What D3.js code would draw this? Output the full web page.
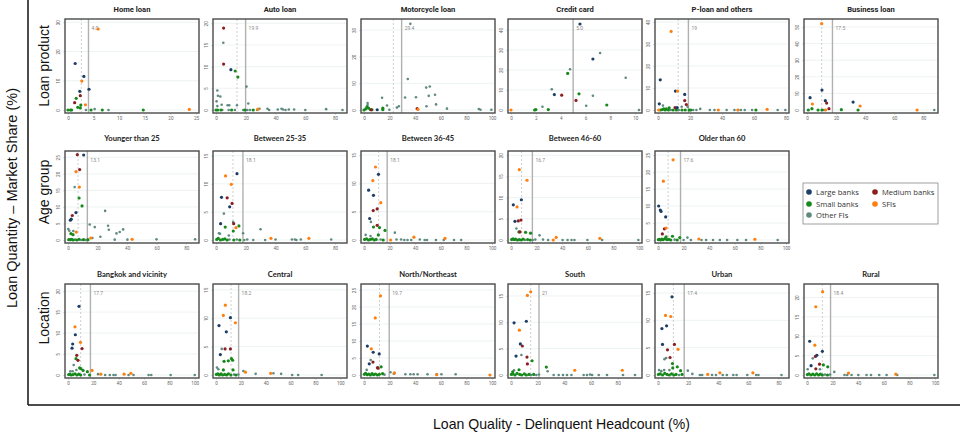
<!DOCTYPE html>
<html><head><meta charset="utf-8">
<script src="https://cdn.jsdelivr.net/npm/d3@7"></script>
<style>body{margin:0;background:#fff}</style>
</head><body>
<svg id="c" width="960" height="437"></svg>
<script>
// ---------- series ----------
const seriesNames = ["Large banks","Medium banks","Small banks","SFIs","Other FIs"];
const seriesCodes = ["L","M","S","F","O"];
const seriesColors = ["#1b3d66","#8b1e22","#17891c","#ff7f0e","#5f8a80"];

// ---------- panel data: [delinquent headcount %, market share %, series] ----------
const homeLoan = [[5.9,27.7,"F"],[1.4,15.9,"L"],[3.1,11.5,"L"],[2.7,9.9,"F"],[4.1,7.1,"L"],[2.3,6.4,"L"],[2.4,4.9,"M"],[1.6,4.0,"S"],[1.3,2.5,"M"],[3.4,1.8,"F"],[2.5,1.7,"S"],[1.9,0.9,"S"],[2.4,0.7,"S"],[0,0,"S"],[0.5,0,"S"],[0.7,0,"S"],[3.5,0,"O"],[4.5,0,"S"],[5.2,0.3,"O"],[6.7,0,"S"],[7.9,0,"O"],[14.7,0,"S"],[23.7,0.2,"F"]];
const autoLoan = [[5.1,18.9,"M"],[4.9,15.5,"O"],[5.1,10.6,"M"],[10.0,9.3,"L"],[12.9,9.0,"S"],[14.7,7.6,"S"],[20.5,5.4,"O"],[0.9,4.5,"O"],[1.3,3.3,"O"],[2.9,3.1,"O"],[0.4,2.0,"O"],[3.8,1.2,"O"],[7.8,1.1,"O"],[8.9,1.1,"O"],[14.1,1.1,"O"],[21.7,1.5,"O"],[0.9,0.9,"O"],[0,0,"S"],[1.1,0,"S"],[3.3,0,"S"],[4.2,0,"O"],[8.5,0,"O"],[10.5,0,"S"],[12.7,0,"O"],[18.3,0,"O"],[19.4,0,"S"],[21,0,"O"],[22.8,0,"O"],[25,0,"S"],[27.7,0,"O"],[28.1,0.2,"F"],[29.2,0.3,"O"],[34.6,0.3,"O"],[35.7,0,"O"],[41.5,0.1,"O"],[44,0.3,"O"],[45,0.1,"O"],[46.7,0,"O"],[48.9,0.1,"O"],[52.5,0.1,"O"],[60,0,"O"],[74,0.2,"O"],[85,0,"O"]];
const motorcycleLoan = [[36.2,32.3,"O"],[34.2,11.6,"O"],[48.6,8.4,"O"],[51.4,8.8,"O"],[32.1,4.7,"O"],[40.6,4.8,"O"],[50.6,5.3,"O"],[55.5,5.7,"O"],[14.1,4.6,"O"],[18,1.7,"O"],[2.8,2.6,"O"],[2.8,1.9,"O"],[2.3,1.2,"S"],[27.2,1.4,"O"],[25.7,0.9,"O"],[48.8,1.4,"O"],[56.3,2.1,"O"],[64.8,0.5,"O"],[42.2,0.2,"F"],[41.5,0.5,"M"],[0,0,"S"],[1.3,0.4,"S"],[3.6,0.7,"S"],[5.1,0.1,"S"],[6.2,0.1,"S"],[5.7,0.1,"M"],[10.3,0.1,"L"],[14.7,0.7,"S"],[14.7,0.1,"S"],[19.8,0.1,"O"],[89.7,0.4,"O"],[91,0.1,"O"],[99.5,0.1,"O"]];
const creditCard = [[5.55,43.0,"L"],[7.17,28.5,"O"],[6.59,25.5,"L"],[4.75,20.4,"O"],[4.56,18.3,"S"],[9.23,16.1,"O"],[3.28,10.4,"O"],[3.49,7.7,"L"],[4.08,7.4,"M"],[5.47,8.1,"S"],[6.59,7.1,"O"],[5.23,4.8,"M"],[2.53,1.6,"O"],[6.05,2.1,"O"],[7.71,2.5,"S"],[1.9,0,"S"],[2.0,0.2,"S"],[3.0,0.2,"S"],[0,0,"F"],[10.3,0,"O"]];
const pLoan = [[8.2,35.7,"F"],[1.4,13.7,"L"],[10.9,8.6,"L"],[12.2,8.6,"F"],[16.7,7.1,"L"],[16.7,4.3,"M"],[0.8,2.8,"L"],[3.1,2.0,"O"],[17.7,2.5,"M"],[14.8,1.5,"O"],[18.5,1.5,"O"],[10.7,1.1,"M"],[12.0,1.1,"L"],[7,1.0,"S"],[5.2,0.5,"S"],[3.6,0.5,"S"],[2.7,0.2,"S"],[0.4,0,"F"],[1.5,0,"S"],[4.5,0,"S"],[6.5,0,"S"],[8,0,"O"],[9.5,0,"S"],[11.5,0,"S"],[13,0,"O"],[15,0,"S"],[17,0,"S"],[19.5,0,"S"],[20.5,0,"S"],[22,0,"O"],[24,0,"O"],[26.4,0.5,"O"],[32.4,0,"O"],[35.3,0,"O"],[37.7,0,"F"],[42.9,0,"O"],[47.8,0,"O"],[49.9,0,"F"],[50.1,0,"O"],[51.8,0,"O"],[54.2,0,"O"],[58.8,0,"O"],[61.2,0,"S"],[68.2,0.3,"F"],[74.8,0,"O"],[79.6,0,"O"]];
const businessLoan = [[10.1,52,"F"],[10.3,12,"L"],[2.1,7.4,"L"],[12.6,5.6,"L"],[13.5,4.2,"M"],[31.7,4.8,"L"],[3.7,3.6,"F"],[36.5,2.4,"F"],[3.4,0.8,"S"],[15.1,0.8,"M"],[0.9,0,"S"],[7.6,0,"S"],[10.3,0,"S"],[11.7,0,"O"],[23.6,0.2,"S"],[35.1,0,"S"],[12.8,0,"F"],[75.7,0,"F"],[87.5,0,"O"]];
const youngerThan25 = [[6.3,25.8,"M"],[10.6,25.7,"L"],[7.9,21.3,"M"],[5.4,20.7,"F"],[7.7,16.0,"F"],[4.5,16.0,"O"],[7.5,12.7,"S"],[9.5,10.3,"S"],[25.1,8.8,"O"],[5.4,8.3,"L"],[2.9,7.4,"M"],[1.6,6.0,"L"],[2.2,6.3,"L"],[14.7,4.7,"O"],[18.1,3.9,"O"],[27.1,4.3,"O"],[27.6,3.1,"O"],[37.3,3.2,"O"],[32.8,2.0,"O"],[35.0,2.4,"O"],[0.2,3.3,"O"],[0.9,2.8,"O"],[3.6,2.7,"O"],[5.6,2.4,"F"],[2.0,1.9,"S"],[3.4,1.6,"S"],[21.9,1.0,"O"],[16.5,0.6,"O"],[15.4,0.6,"F"],[43.4,0.2,"F"],[0.5,0.1,"S"],[1.5,0.1,"S"],[2.5,0.2,"S"],[3.5,0,"S"],[4.8,0.1,"O"],[6,0,"S"],[7.5,0.2,"S"],[9,0,"O"],[10.5,0.1,"S"],[12,0,"O"],[13.5,0.1,"S"],[31.6,0.1,"O"],[40.2,0.1,"O"],[59.9,0.2,"O"],[86,0.2,"O"]];
const between25to35 = [[14.1,11.8,"L"],[6.4,11.4,"F"],[10.3,9.9,"F"],[3.7,7.6,"L"],[7.5,7.5,"M"],[10.8,6.5,"M"],[9.2,5.9,"L"],[5.3,4.7,"O"],[3.1,2.9,"L"],[11.9,2.9,"M"],[11.5,3.2,"O"],[6.2,2.3,"S"],[11.6,1.6,"S"],[15.4,2.5,"S"],[13.4,2.2,"F"],[29.9,1.9,"O"],[2.0,1.2,"O"],[2.7,1.1,"O"],[18.2,1.2,"O"],[8.6,0.8,"O"],[36.9,0.3,"F"],[62.4,0.3,"F"],[77.4,0.1,"O"],[0.5,0.1,"S"],[1.5,0.3,"S"],[3,0,"S"],[4.5,0.1,"S"],[6,0.2,"S"],[7.5,0,"S"],[9,0.1,"O"],[12,0,"S"],[14,0.1,"O"],[16,0,"S"],[19,0,"O"],[21,0.1,"O"],[25,0,"O"],[33,0,"O"],[40,0.1,"O"],[51,0.1,"O"],[53,0.1,"O"],[54,0,"O"],[57,0.1,"O"]];
const between36to45 = [[9.0,12.9,"F"],[11.3,11.6,"L"],[6.9,10.5,"F"],[3.6,8.8,"L"],[7.4,7.9,"L"],[13.1,6.6,"F"],[10.3,5.5,"M"],[7.2,5.2,"M"],[4.4,3.8,"L"],[5.4,3.2,"O"],[10.3,2.6,"M"],[12.1,2.2,"S"],[7.4,2.3,"S"],[16.4,1.7,"S"],[24.1,1.3,"O"],[11.2,0.9,"S"],[1.3,0.9,"O"],[5.1,0.7,"O"],[20.8,0,"F"],[39,0.5,"F"],[63.3,0.3,"F"],[0.5,0.1,"S"],[2,0.2,"S"],[3.5,0,"S"],[5,0.1,"S"],[6.5,0.2,"S"],[8,0,"S"],[9.5,0.1,"S"],[13,0.1,"O"],[15,0,"S"],[25.4,0.1,"O"],[29,0.1,"O"],[31.5,0,"O"],[34,0,"O"],[36.9,0,"O"],[43.6,0.1,"O"],[47.4,0,"O"],[49.2,0,"O"],[56.2,0,"O"],[62.3,0,"O"],[70.3,0,"O"],[75.9,0,"O"]];
const between46to60 = [[6.5,16.6,"F"],[12.5,14.1,"F"],[8.1,9.5,"L"],[1.8,8.3,"L"],[4.7,7.8,"F"],[7.8,4.7,"M"],[5.7,4.5,"M"],[3.1,4.4,"L"],[4.2,2.7,"O"],[7.0,1.9,"M"],[6.2,1.9,"S"],[11.4,1.8,"S"],[15.3,1.6,"S"],[22.3,1.1,"O"],[35.3,0.6,"F"],[33,0,"F"],[69.4,0.4,"F"],[40.3,0,"O"],[44.2,0,"O"],[47.3,0,"O"],[49.6,0,"O"],[59.7,0,"O"],[71.2,0,"O"],[99.5,0,"O"],[0.5,0.1,"S"],[1.5,0.3,"S"],[2.5,0.1,"S"],[3.5,0.2,"S"],[5,0,"S"],[6.5,0.1,"S"],[8,0,"S"],[9.5,0.2,"S"],[11,0,"O"],[13,0.1,"S"],[15,0,"S"],[17,0,"O"],[19,0.1,"O"],[25,0.1,"O"],[29,0,"O"]];
const olderThan60 = [[11.8,23.6,"F"],[4.2,17.3,"F"],[0.5,10.0,"L"],[1.8,8.8,"L"],[2.4,8.4,"L"],[6.0,6.8,"L"],[6.3,3.5,"F"],[5.0,3.3,"M"],[3.4,1.8,"M"],[11.3,1.1,"S"],[6.3,0.9,"S"],[17,0.7,"S"],[23,0.7,"O"],[31.9,0.3,"F"],[75.7,0.2,"F"],[93.5,0,"O"],[68.8,0,"O"],[62,0,"O"],[54,0,"O"],[48.3,0,"O"],[43,0,"O"],[37.6,0,"O"],[34,0,"O"],[25.7,0,"O"],[20,0,"O"],[0.3,0.1,"S"],[1,0.2,"S"],[2,0,"S"],[3,0.3,"S"],[4,0.1,"S"],[5.5,0.4,"S"],[7,0.1,"S"],[8.5,0.2,"S"],[10,0,"S"],[13,0.1,"O"],[15,0,"S"]];
const bangkokVicinity = [[8.7,16.4,"L"],[5.5,11.5,"F"],[5.8,9.6,"L"],[9.8,7.8,"F"],[3.7,7.4,"L"],[3.2,6.4,"L"],[11.1,6.3,"M"],[6.9,4.7,"M"],[7.9,3.5,"M"],[6.3,3.9,"S"],[4.5,2.4,"O"],[9.2,1.7,"S"],[10.2,1.5,"S"],[1.9,0.9,"O"],[3.7,0.9,"O"],[6.6,1.2,"O"],[11.9,1.1,"S"],[15.3,0.8,"S"],[19,1.1,"F"],[25.9,0.2,"F"],[44.3,0.2,"F"],[49.6,0.4,"F"],[23.7,0.2,"O"],[29.3,0,"O"],[33,0,"O"],[35.9,0,"O"],[37.5,0,"O"],[47.8,0,"O"],[51.7,0,"O"],[63.6,0,"O"],[65.7,0,"O"],[81,0,"O"],[100,0,"O"],[0.5,0.1,"S"],[1.5,0.2,"S"],[2.5,0,"S"],[4,0.1,"S"],[5.5,0.3,"S"],[7,0,"S"],[8.5,0.2,"S"],[10,0,"S"],[13,0.1,"O"],[17,0,"S"]];
const central = [[7.5,12.3,"F"],[5.9,10.5,"F"],[11.6,10.1,"L"],[15.6,9.2,"F"],[2.4,8.7,"L"],[8.3,7.6,"L"],[7.3,4.6,"M"],[11.6,4.6,"M"],[4.6,4.6,"O"],[3.5,3.6,"L"],[12.4,2.9,"S"],[13.4,2.6,"S"],[6.5,2.4,"S"],[9.9,2.5,"S"],[0.8,1.3,"O"],[1.9,1.0,"O"],[5.9,0.9,"S"],[13.7,0.9,"S"],[23.7,0.5,"F"],[44,0.3,"F"],[22.0,0.7,"O"],[31.9,0.2,"O"],[46.2,0.3,"O"],[52.4,0.2,"O"],[61.3,0,"O"],[66.1,0,"O"],[85,0,"O"],[0.3,0.1,"S"],[1.5,0.2,"S"],[2.7,0,"S"],[4,0.2,"S"],[5.3,0,"S"],[7,0.1,"S"],[8.5,0,"S"],[10,0.2,"S"],[12,0,"S"],[14.5,0.1,"O"],[16,0,"S"],[18,0.1,"O"]];
const northNortheast = [[12.9,23.3,"F"],[8.8,16.8,"F"],[2.6,8.5,"L"],[5.7,7.7,"F"],[7.2,6.7,"L"],[11.9,6.2,"L"],[5.2,4.4,"O"],[4.1,3.3,"L"],[7.0,3.8,"M"],[10.6,2.2,"M"],[10.9,2.0,"M"],[13.4,2.4,"S"],[2.1,1.5,"O"],[20.7,0.8,"O"],[23.3,0.4,"O"],[23.8,0.6,"F"],[56.8,0.1,"F"],[98.4,0,"F"],[32.3,0.2,"O"],[36.2,0.2,"O"],[38.8,0.2,"O"],[41.9,0.2,"O"],[49.6,0.2,"O"],[56.8,0.2,"O"],[60.5,0.2,"O"],[71.6,0.2,"O"],[0.3,0.2,"S"],[1.2,0.5,"S"],[2.5,0.1,"S"],[3.8,0.3,"S"],[5,0,"S"],[6.3,0.4,"S"],[7.5,0.1,"S"],[9,0.3,"S"],[10.5,0,"S"],[12,0.2,"S"],[14.5,0.4,"S"],[16,0.1,"O"]];
const south = [[14.8,15.8,"F"],[12.3,15.1,"F"],[2.3,9.9,"L"],[11.5,10.2,"L"],[6.3,8.5,"F"],[7.0,5.9,"L"],[8.5,5.5,"M"],[3.8,3.6,"L"],[7.8,3.8,"O"],[12,3.4,"M"],[15.8,2.7,"S"],[12.3,2.1,"M"],[6,1.0,"S"],[2.3,0.9,"O"],[1.3,0.6,"S"],[26.5,1.5,"S"],[27.5,0.7,"O"],[47.8,0.9,"F"],[83.5,0.9,"F"],[32,0,"O"],[35.8,0,"O"],[39,0,"O"],[42,0,"O"],[45.3,0,"O"],[54.5,0,"O"],[57,0,"O"],[59.3,0.1,"O"],[60.8,0,"O"],[65.8,0,"O"],[72,0,"O"],[84,0,"O"],[93,0,"O"],[0.3,0.1,"S"],[1.5,0.2,"S"],[3,0,"S"],[4.5,0.3,"S"],[6.5,0.1,"S"],[8,0,"S"],[10,0.2,"S"],[11.5,0,"S"],[13.5,0.1,"S"],[15,0,"O"],[17,0.1,"S"],[19,0,"O"],[21,0.1,"O"]];
const urban = [[9.3,14.3,"L"],[5.0,10.9,"F"],[8.5,10.7,"F"],[5.7,9.0,"L"],[2.6,8.5,"L"],[3.0,5.6,"L"],[10.9,5.6,"M"],[6.3,4.6,"M"],[13.3,4.7,"F"],[4.3,2.9,"O"],[5.4,3.1,"O"],[8.0,3.2,"M"],[9.6,2.1,"S"],[12.8,1.5,"S"],[9.8,1.3,"S"],[15,0.8,"S"],[0.7,0.9,"O"],[2.2,0.7,"O"],[4.1,0.9,"O"],[7.6,0.9,"O"],[19.8,0.8,"O"],[33,0.1,"F"],[41.1,0.4,"F"],[63,0.4,"F"],[22.8,0.2,"O"],[27.8,0,"O"],[29.3,0,"O"],[35.9,0,"O"],[38.5,0,"O"],[43,0,"O"],[45.7,0,"O"],[50,0,"O"],[52.2,0,"O"],[59.3,0,"O"],[65.2,0,"O"],[66.7,0,"O"],[82,0,"O"],[0.3,0.1,"S"],[1.5,0.2,"S"],[3,0,"S"],[4.5,0.3,"S"],[6,0.1,"S"],[7.5,0,"S"],[9,0.2,"S"],[10.5,0,"S"],[12,0.1,"S"],[14,0,"O"],[16,0.1,"S"]];
const rural = [[12.2,21.5,"F"],[6.9,17.6,"F"],[2.1,8.7,"L"],[6.1,7.7,"F"],[12,6.1,"L"],[7.7,5.1,"L"],[6.6,4.8,"M"],[4.5,4.3,"O"],[9.8,2.8,"M"],[3.2,2.4,"L"],[6.9,1.6,"M"],[0.5,1.5,"O"],[10.1,1.5,"O"],[12.8,2.6,"S"],[16.2,2.1,"S"],[21.3,0.8,"O"],[32.4,0.5,"F"],[69.4,0.2,"F"],[29.3,0,"O"],[31.4,0,"O"],[34.8,0,"O"],[40.1,0,"O"],[46.5,0,"O"],[50,0,"O"],[56.4,0,"O"],[62.2,0,"O"],[70.5,0,"O"],[99.5,0,"O"],[0.3,0.1,"S"],[1.5,0.3,"S"],[3,0,"S"],[4.5,0.2,"S"],[6,0,"S"],[7.5,0.3,"S"],[9,0,"S"],[10.5,0.2,"S"],[12,0,"S"],[14,0.1,"O"],[16,0,"S"],[18,0.1,"O"]];

// ---------- panel settings (in panel order, row by row) ----------
const panelTitles = ["Home loan","Auto loan","Motorcycle loan","Credit card","P-loan and others","Business loan",
  "Younger than 25","Between 25-35","Between 36-45","Between 46-60","Older than 60",
  "Bangkok and vicinity","Central","North/Northeast","South","Urban","Rural"];
const panelData = [homeLoan,autoLoan,motorcycleLoan,creditCard,pLoan,businessLoan,
  youngerThan25,between25to35,between36to45,between46to60,olderThan60,
  bangkokVicinity,central,northNortheast,south,urban,rural];
const panelRow = [0,0,0,0,0,0, 1,1,1,1,1, 2,2,2,2,2,2];
const panelCol = [0,1,2,3,4,5, 0,1,2,3,4, 0,1,2,3,4,5];
const xMax = [25,86,100,10.3,80,88, 86.6,86,100,100,100, 101,103,100,96,85,100];
const xTicks = [[0,5,10,15,20,25],[0,20,40,60,80],[0,20,40,60,80,100],[0,2,4,6,8,10],[0,20,40,60,80],[0,20,40,60,80],
  [0,20,40,60,80],[0,20,40,60,80],[0,20,40,60,80,100],[0,20,40,60,80,100],[0,20,40,60,80,100],
  [0,20,40,60,80,100],[0,20,40,60,80,100],[0,20,40,60,80,100],[0,20,40,60,80],[0,20,40,60,80],[0,20,40,60,80,100]];
const yMax = [30.1,20.3,33,44,40,53, 26,15.3,15.2,20.3,25.3, 21,15.5,25.9,16.7,16.1,22.7];
const yTicks = [[0,10,20,30],[0,5,10,15,20],[0,10,20,30],[0,10,20,30,40],[0,10,20,30,40],[0,10,20,30,40,50],
  [0,5,10,15,20,25],[0,5,10,15],[0,5,10,15],[0,5,10,15,20],[0,5,10,15,20,25],
  [0,5,10,15,20],[0,5,10,15],[0,5,10,15,20,25],[0,5,10,15],[0,5,10,15],[0,5,10,15,20]];
const solidRef = [4.0,19.9,29.4,5.0,19,17.5, 13.1,18.1,18.1,16.7,17.6, 17.7,18.2,19.7,21,17.4,18.4];
const solidLabel = ["4.0","19.9","29.4","5.0","19","17.5","13.1","18.1","18.1","16.7","17.6","17.7","18.2","19.7","21","17.4","18.4"];
const dashedRef = [2.6,14.1,22.9,null,12.6,10.1, 6.8,11.4,11.5,8.3,7.9, 10.0,12.1,12.1,14.8,10.2,12.0];
const rowLabels = ["Loan product","Age group","Location"];

// ---------- layout ----------
const colLeft = [65,213,361,508,655,804];
const boxW = 134;
const rowTop = [19,151,284];
const rowH = [94,92,94];
const titleY = [12,141,277];

const svg = d3.select("#c");
const colorOf = d3.scaleOrdinal().domain(seriesCodes).range(seriesColors);
const drawOrder = {O:0,S:1,M:2,L:3,F:4};

panelTitles.forEach((title,i)=>{
  const r = panelRow[i], c = panelCol[i];
  const L = colLeft[c], R = L + boxW, T = rowTop[r], B = T + rowH[r];
  const x = d3.scaleLinear().domain([0,xMax[i]]).range([L+3,R-3]);
  const y = d3.scaleLinear().domain([0,yMax[i]]).range([B-3,T+3]);
  const g = svg.append("g");

  // faint grid
  g.selectAll("line.grid").data(yTicks[i]).join("line")
    .attr("x1",L).attr("x2",R).attr("y1",d=>y(d)).attr("y2",d=>y(d))
    .attr("stroke","#e9f0ef").attr("stroke-width",0.8);

  // reference lines
  if (dashedRef[i] !== null) {
    g.append("line").attr("x1",x(dashedRef[i])).attr("x2",x(dashedRef[i]))
      .attr("y1",T).attr("y2",B).attr("stroke","#cfcfcf").attr("stroke-width",1)
      .attr("stroke-dasharray","2,2");
  }
  g.append("line").attr("x1",x(solidRef[i])).attr("x2",x(solidRef[i]))
    .attr("y1",T).attr("y2",B).attr("stroke","#b0b0b0").attr("stroke-width",1.4);
  g.append("text").attr("x",x(solidRef[i])+3).attr("y",T+11)
    .attr("font-family","Roboto, sans-serif").attr("font-size",5).attr("fill","#888")
    .text(solidLabel[i]);

  // axes (tick labels only)
  const xa = g.append("g").attr("transform",`translate(0,${B})`)
    .call(d3.axisBottom(x).tickValues(xTicks[i]).tickSize(2).tickPadding(2));
  const ya = g.append("g").attr("transform",`translate(${L},0)`)
    .call(d3.axisLeft(y).tickValues(yTicks[i]).tickSize(2).tickPadding(1));
  [xa,ya].forEach(a=>{
    a.select(".domain").remove();
    a.selectAll(".tick line").attr("stroke","#bbb").attr("stroke-width",0.5);
    a.selectAll("text").attr("font-family","Roboto, sans-serif").attr("font-size",4.6).attr("fill","#666");
  });
  ya.selectAll(".tick text").attr("text-anchor","middle").attr("x",null).attr("dy","0")
    .attr("transform","translate(-5,0) rotate(-90)");

  // points
  const pts = panelData[i].slice().sort((a,b)=>drawOrder[a[2]]-drawOrder[b[2]]);
  g.selectAll("circle").data(pts).join("circle")
    .attr("cx",d=>x(d[0])).attr("cy",d=>y(d[1]))
    .attr("r",d=>d[2]==="O"?1.3:1.6)
    .attr("fill",d=>colorOf(d[2]));

  // frame
  g.append("rect").attr("x",L).attr("y",T).attr("width",boxW).attr("height",rowH[r])
    .attr("fill","none").attr("stroke","#4a4a4a").attr("stroke-width",1.4);

  // title
  svg.append("text").attr("x",(L+R)/2).attr("y",titleY[r]).attr("text-anchor","middle")
    .attr("font-family", r===0 ? "Roboto, sans-serif" : "Lato, sans-serif")
    .attr("font-weight","bold").attr("font-size",7.6).attr("fill","#222").text(title);
});

// row labels
const rowLabelY = [66,192,318];
rowLabels.forEach((t,k)=>{
  svg.append("text").attr("transform",`translate(49,${rowLabelY[k]}) rotate(-90)`)
    .attr("text-anchor","middle").attr("font-family","Liberation Sans, Arial, sans-serif")
    .attr("font-size",14).attr("fill","#111").text(t);
});

// outer L-frame
svg.append("line").attr("x1",28).attr("x2",28).attr("y1",0).attr("y2",405).attr("stroke","#111").attr("stroke-width",1.5);
svg.append("line").attr("x1",28).attr("x2",960).attr("y1",405).attr("y2",405).attr("stroke","#111").attr("stroke-width",1.5);

// axis titles
svg.append("text").attr("transform","translate(17,198) rotate(-90)").attr("text-anchor","middle")
  .attr("font-family","Liberation Sans, Arial, sans-serif").attr("font-size",14.5).attr("fill","#111")
  .text("Loan Quantity – Market Share (%)");
svg.append("text").attr("x",433).attr("y",429)
  .attr("font-family","Liberation Sans, Arial, sans-serif").attr("font-size",14.5).attr("fill","#111")
  .attr("textLength",257).attr("lengthAdjust","spacingAndGlyphs")
  .text("Loan Quality - Delinquent Headcount (%)");

// legend
const lg = svg.append("g");
lg.append("rect").attr("x",803).attr("y",183).attr("width",135).attr("height",41)
  .attr("fill","#fff").attr("stroke","#888").attr("stroke-width",0.8);
const legendPos = [[809,192],[875,192],[809,204],[875,204],[809,215]];
seriesNames.forEach((n,k)=>{
  lg.append("circle").attr("cx",legendPos[k][0]).attr("cy",legendPos[k][1]).attr("r",2.8).attr("fill",seriesColors[k]);
  lg.append("text").attr("x",legendPos[k][0]+7).attr("y",legendPos[k][1]+3)
    .attr("font-family","'Open Sans', sans-serif").attr("font-size",7.6).attr("fill","#333").text(n);
});
</script>
</body></html>
